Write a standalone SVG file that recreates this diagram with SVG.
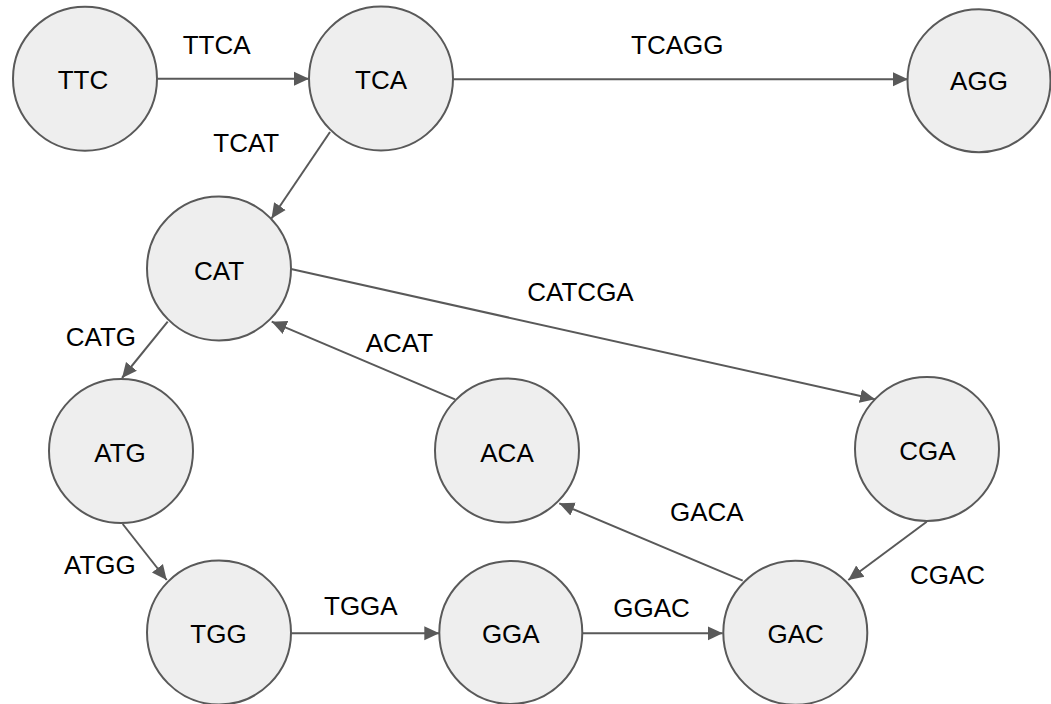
<svg xmlns="http://www.w3.org/2000/svg" width="1051" height="704" viewBox="0 0 1051 704">
  <style>
    .node circle { fill: #eeeeee; stroke: #595959; stroke-width: 2; }
    .node text { font-family: "Liberation Sans", Arial, sans-serif; font-size: 26px; fill: #000; text-anchor: middle; }
    .edge { stroke: #595959; stroke-width: 2; fill: none; marker-end: url(#arrow); }
    .lbl { font-family: "Liberation Sans", Arial, sans-serif; font-size: 26px; fill: #000; }
  </style>
  <defs>
    <marker id="arrow" markerUnits="userSpaceOnUse" markerWidth="16" markerHeight="16" viewBox="0 -8 16 16" refX="15" refY="0" orient="auto">
      <path d="M0,-7 L15,0 L0,7 z" fill="#595959"/>
    </marker>
  </defs>
  <rect width="1051" height="704" fill="#ffffff"/>

  <!-- connectors -->
  <g id="edges">
    <line class="edge" x1="157.5" y1="78.7" x2="309" y2="78.7"/>
    <line class="edge" x1="453" y1="79.3" x2="908" y2="79.3"/>
    <line class="edge" x1="330" y1="132" x2="271.5" y2="218.5"/>
    <line class="edge" x1="167.7" y1="321.7" x2="122" y2="378"/>
    <line class="edge" x1="122.7" y1="524" x2="166.7" y2="580"/>
    <line class="edge" x1="291" y1="633.3" x2="439.3" y2="633.3"/>
    <line class="edge" x1="582.3" y1="633.3" x2="722.7" y2="633.3"/>
    <line class="edge" x1="742.7" y1="580.7" x2="559.3" y2="503.3"/>
    <line class="edge" x1="455" y1="399.3" x2="271.7" y2="321.7"/>
    <line class="edge" x1="291" y1="269" x2="875" y2="399.3"/>
    <line class="edge" x1="926.7" y1="521.7" x2="848.3" y2="580"/>
  </g>

  <!-- edge labels -->
  <g id="edge-labels">
    <text class="lbl" x="182.7" y="54.3">TTCA</text>
    <text class="lbl" x="631" y="54">TCAGG</text>
    <text class="lbl" x="213.3" y="151.7">TCAT</text>
    <text class="lbl" x="527.3" y="301">CATCGA</text>
    <text class="lbl" x="65.7" y="346">CATG</text>
    <text class="lbl" x="365.7" y="351.7">ACAT</text>
    <text class="lbl" x="64" y="574.3">ATGG</text>
    <text class="lbl" x="324" y="615">TGGA</text>
    <text class="lbl" x="613.3" y="616.7">GGAC</text>
    <text class="lbl" x="670" y="521">GACA</text>
    <text class="lbl" x="910" y="584.3">CGAC</text>
  </g>

  <!-- nodes -->
  <g id="node-TTC" class="node"><circle cx="85" cy="78.7" r="72"/><text x="83" y="89.3">TTC</text></g>
  <g id="node-TCA" class="node"><circle cx="381" cy="78.5" r="72"/><text x="381" y="89.3">TCA</text></g>
  <g id="node-AGG" class="node"><circle cx="979" cy="80.7" r="71.5"/><text x="979" y="90">AGG</text></g>
  <g id="node-CAT" class="node"><circle cx="219" cy="268.5" r="72"/><text x="219" y="280">CAT</text></g>
  <g id="node-ATG" class="node"><circle cx="121" cy="451" r="72"/><text x="120" y="462.3">ATG</text></g>
  <g id="node-ACA" class="node"><circle cx="507" cy="450.5" r="72"/><text x="507" y="461.7">ACA</text></g>
  <g id="node-CGA" class="node"><circle cx="927" cy="449" r="72"/><text x="927.5" y="460">CGA</text></g>
  <g id="node-TGG" class="node"><circle cx="219" cy="632.5" r="72"/><text x="218.5" y="643.3">TGG</text></g>
  <g id="node-GGA" class="node"><circle cx="510.8" cy="632.5" r="71.5"/><text x="510.8" y="643.3">GGA</text></g>
  <g id="node-GAC" class="node"><circle cx="795.3" cy="632.7" r="72"/><text x="795.6" y="643.3">GAC</text></g>
</svg>
